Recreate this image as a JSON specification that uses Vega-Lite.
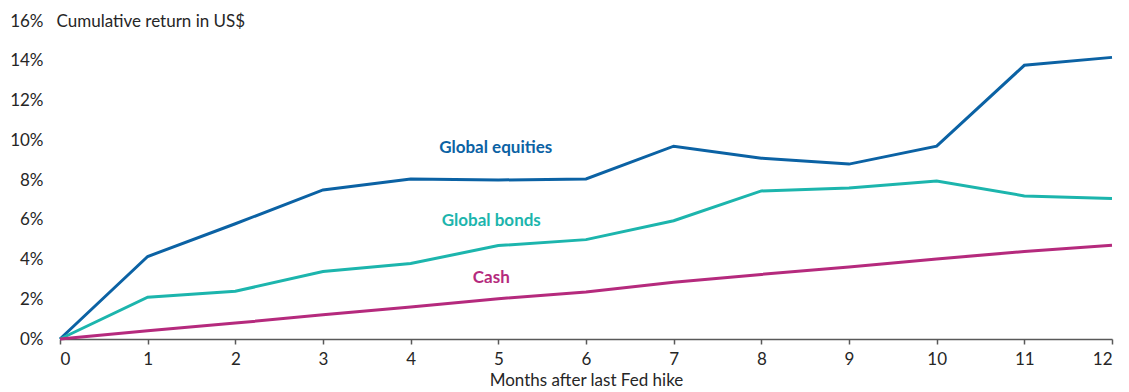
{
  "$schema": "https://vega.github.io/schema/vega-lite/v6.json",
  "width": 1052,
  "height": 318,
  "autosize": "none",
  "padding": {"left": 60, "top": 21, "right": 17, "bottom": 53},
  "background": "white",
  "config": {
    "view": {"stroke": null},
    "font": "Lato",
    "axis": {"grid": false, "labelOverlap": false, "labelFont": "Lato", "titleFont": "Lato", "labelColor": "#262626", "titleColor": "#262626", "titleFontWeight": "normal"}
  },
  "datasets": {
    "returns": [
      {"month": 0, "series": "Global equities", "ret": 0},
      {"month": 1, "series": "Global equities", "ret": 4.15},
      {"month": 2, "series": "Global equities", "ret": 5.8},
      {"month": 3, "series": "Global equities", "ret": 7.5},
      {"month": 4, "series": "Global equities", "ret": 8.05},
      {"month": 5, "series": "Global equities", "ret": 8.0},
      {"month": 6, "series": "Global equities", "ret": 8.05},
      {"month": 7, "series": "Global equities", "ret": 9.7},
      {"month": 8, "series": "Global equities", "ret": 9.1},
      {"month": 9, "series": "Global equities", "ret": 8.8},
      {"month": 10, "series": "Global equities", "ret": 9.7},
      {"month": 11, "series": "Global equities", "ret": 13.77},
      {"month": 12, "series": "Global equities", "ret": 14.17},
      {"month": 0, "series": "Global bonds", "ret": 0},
      {"month": 1, "series": "Global bonds", "ret": 2.1},
      {"month": 2, "series": "Global bonds", "ret": 2.4},
      {"month": 3, "series": "Global bonds", "ret": 3.4},
      {"month": 4, "series": "Global bonds", "ret": 3.8},
      {"month": 5, "series": "Global bonds", "ret": 4.7},
      {"month": 6, "series": "Global bonds", "ret": 5.0},
      {"month": 7, "series": "Global bonds", "ret": 5.95},
      {"month": 8, "series": "Global bonds", "ret": 7.45},
      {"month": 9, "series": "Global bonds", "ret": 7.6},
      {"month": 10, "series": "Global bonds", "ret": 7.95},
      {"month": 11, "series": "Global bonds", "ret": 7.2},
      {"month": 12, "series": "Global bonds", "ret": 7.07},
      {"month": 0, "series": "Cash", "ret": 0},
      {"month": 1, "series": "Cash", "ret": 0.42},
      {"month": 2, "series": "Cash", "ret": 0.8},
      {"month": 3, "series": "Cash", "ret": 1.22},
      {"month": 4, "series": "Cash", "ret": 1.61},
      {"month": 5, "series": "Cash", "ret": 2.03},
      {"month": 6, "series": "Cash", "ret": 2.37},
      {"month": 7, "series": "Cash", "ret": 2.85},
      {"month": 8, "series": "Cash", "ret": 3.25},
      {"month": 9, "series": "Cash", "ret": 3.62},
      {"month": 10, "series": "Cash", "ret": 4.03},
      {"month": 11, "series": "Cash", "ret": 4.4},
      {"month": 12, "series": "Cash", "ret": 4.72}
    ],
    "labels": [
      {"series": "Global equities", "month": 4.97, "ret": 9.63},
      {"series": "Global bonds", "month": 4.92, "ret": 5.94},
      {"series": "Cash", "month": 4.92, "ret": 3.06}
    ]
  },
  "encoding": {
    "x": {
      "field": "month", "type": "quantitative",
      "scale": {"domain": [0, 12], "nice": false, "zero": false},
      "axis": {
        "title": "Months after last Fed hike",
        "values": [0, 1, 2, 3, 4, 5, 6, 7, 8, 9, 10, 11, 12],
        "format": "d",
        "labelOverlap": false,
        "domainColor": "#595959", "domainWidth": 1.5,
        "tickColor": "#595959", "tickWidth": 1.5, "tickSize": 5,
        "labelFontSize": 17, "labelPadding": 7,
        "titleFontSize": 17, "titlePadding": 5
      }
    },
    "y": {
      "field": "ret", "type": "quantitative",
      "scale": {"domain": [0, 16], "nice": false},
      "axis": {
        "title": "Cumulative return in US$",
        "values": [0, 2, 4, 6, 8, 10, 12, 14, 16],
        "labelExpr": "datum.value + '%'",
        "labelOverlap": false,
        "domain": false, "ticks": false,
        "labelFontSize": 17, "labelPadding": 17,
        "titleFontSize": 17, "titleAngle": 0, "titleAlign": "left",
        "titleBaseline": "middle", "titleX": -4, "titleY": 0
      }
    },
    "color": {
      "field": "series", "type": "nominal",
      "scale": {"domain": ["Global equities", "Global bonds", "Cash"], "range": ["#0b62a4", "#1cb5ad", "#b52a7d"]},
      "legend": null
    }
  },
  "layer": [
    {
      "data": {"name": "returns"},
      "mark": {"type": "line", "strokeWidth": 3, "strokeJoin": "miter"}
    },
    {
      "data": {"name": "labels"},
      "mark": {"type": "text", "fontWeight": "bold", "fontSize": 17, "align": "center", "baseline": "middle"},
      "encoding": {
        "text": {"field": "series"}
      }
    }
  ]
}
